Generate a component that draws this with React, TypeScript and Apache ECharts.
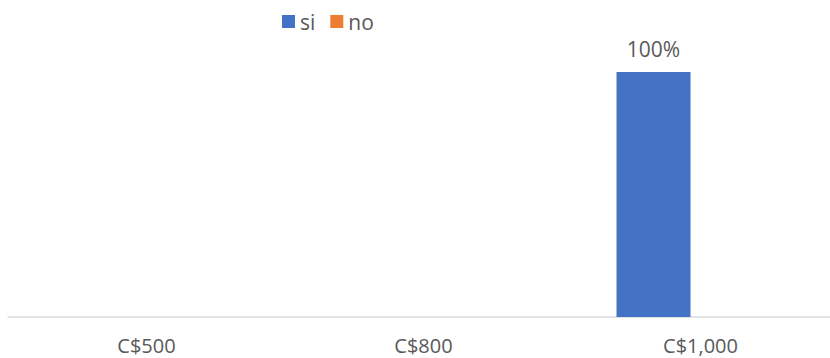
import React, { useEffect, useRef } from "react";
import * as echarts from "echarts";

const categories = ["C$500", "C$800", "C$1,000"];
const siValues: (number | null)[] = [null, null, 100];
const noValues: (number | null)[] = [null, null, null];

const FONT = "'Open Sans', 'Liberation Sans', sans-serif";
const TEXT = "#595959";

const pctLabel = {
  show: true,
  position: "top",
  distance: 13,
  fontFamily: FONT,
  fontSize: 21,
  color: TEXT,
  formatter: (p: any) => (p.value == null ? "" : `${p.value}%`),
};

export default function App() {
  const ref = useRef<HTMLDivElement>(null);

  useEffect(() => {
    document.body.style.margin = "0";
    if (!ref.current) return;
    const chart = echarts.init(ref.current, undefined, { renderer: "svg" });
    chart.setOption({
      animation: false,
      textStyle: { fontFamily: FONT, color: TEXT },
      legend: {
        top: 6,
        left: 277,
        itemWidth: 13,
        itemHeight: 13,
        itemGap: 15,
        icon: "rect",
        textStyle: { fontFamily: FONT, fontSize: 21, color: TEXT },
        data: ["si", "no"],
      },
      grid: {
        left: 8,
        width: 831,
        top: 72,
        bottom: 41,
        containLabel: false,
        outerBoundsMode: "none",
      },
      xAxis: {
        type: "category",
        data: categories,
        axisLine: { lineStyle: { color: "#D9D9D9", width: 1.5 } },
        axisTick: { show: false },
        axisLabel: { fontFamily: FONT, fontSize: 20, color: TEXT, margin: 18 },
      },
      yAxis: {
        type: "value",
        min: 0,
        max: 100,
        show: false,
        splitLine: { show: false },
      },
      series: [
        {
          name: "si",
          type: "bar",
          data: siValues,
          barWidth: 74,
          barGap: "27%",
          itemStyle: { color: "#4472C4" },
          label: pctLabel,
        },
        {
          name: "no",
          type: "bar",
          data: noValues,
          barWidth: 74,
          itemStyle: { color: "#ED7D31" },
          label: pctLabel,
        },
      ],
    });
    return () => chart.dispose();
  }, []);

  return <div ref={ref} style={{ width: 830, height: 358 }} />;
}
